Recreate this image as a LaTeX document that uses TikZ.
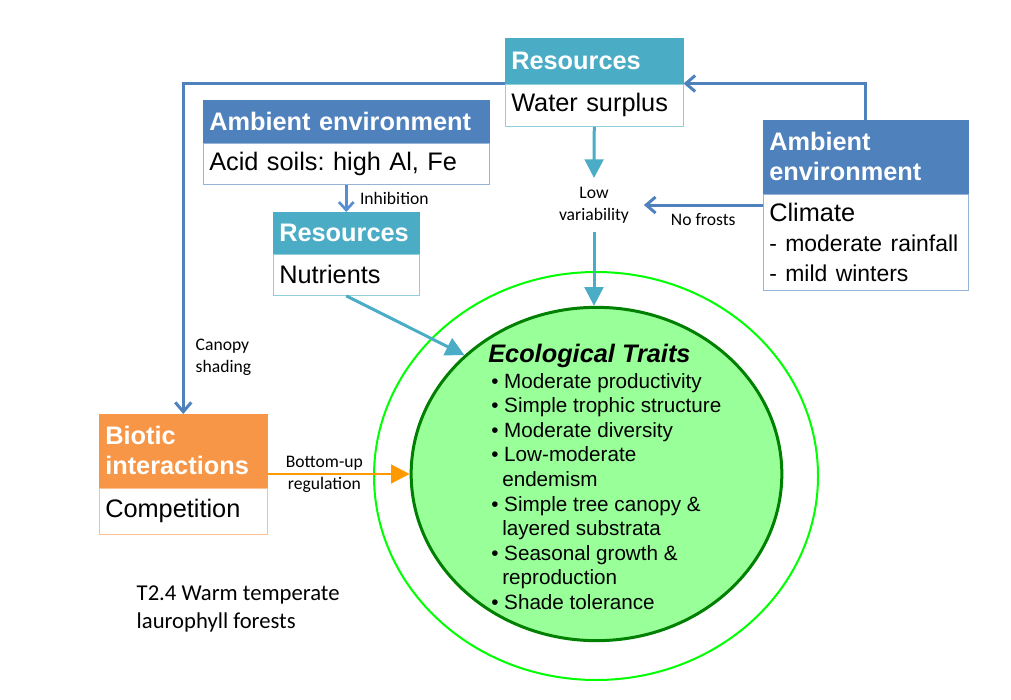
\documentclass[tikz,border=0pt]{standalone}
\usepackage{fontspec}
\setmainfont{Liberation Sans}
\newfontfamily\labelFont{Carlito}
\usetikzlibrary{positioning,shapes.geometric,arrows.meta}
\definecolor{ambBlue}{HTML}{4F81BD}
\definecolor{ambEdge}{HTML}{95B3D7}
\definecolor{resTeal}{HTML}{4BACC6}
\definecolor{resEdge}{HTML}{92CDDC}
\definecolor{bioOrange}{HTML}{F79646}
\definecolor{bioEdge}{HTML}{FAC090}
\definecolor{bioLink}{HTML}{FF9900}
\definecolor{inhBlue}{HTML}{558ED5}
\definecolor{traitFill}{HTML}{99FF99}
\definecolor{traitEdge}{HTML}{008000}
\definecolor{outerGreen}{HTML}{00FF00}
\newcommand{\boxFont}{\fontsize{19}{22.5}\selectfont}
\newcommand{\climFont}{\fontsize{17.2}{21.5}\selectfont}
\newcommand{\smallLabel}{\labelFont\fontsize{13.2}{16.5}\selectfont}
\newcommand{\traitFont}{\fontsize{15.5}{18.5}\selectfont}
\frenchspacing

\begin{document}
\begin{tikzpicture}[x=0.75pt, y=-0.75pt,
   headBox/.style={rectangle, anchor=north west, inner xsep=4.5pt, inner ysep=0pt, align=left, text=white, font=\boxFont\bfseries},
   bodyBox/.style={rectangle, fill=white, line width=1pt, inner xsep=4.5pt, inner ysep=0pt, align=left, font=\boxFont},
   blueLink/.style={draw=ambBlue, line width=2.25pt, -{Straight Barb[length=7pt,width=12pt]}},
   inhLink/.style={draw=inhBlue, line width=2pt, -{Straight Barb[length=6pt,width=11pt]}},
   tealLink/.style={draw=resTeal, line width=2.25pt, -{Triangle[length=14pt,width=14pt]}},
   orangeLink/.style={draw=bioLink, line width=2pt, -{Triangle[length=14pt,width=14pt]}}]
   \useasboundingbox (0,0) rectangle (1011,700);

   % ecological traits
   \node[ellipse, draw=outerGreen, line width=1.5pt, minimum width=333pt, minimum height=306pt] (outer) at (596,476) {};
   \node[ellipse, draw=traitEdge, fill=traitFill, line width=2.25pt, minimum width=278pt, minimum height=250pt] (traits) at (596.5,474) {};
   \node[anchor=base west, inner sep=0pt, font=\boxFont\bfseries\itshape] (traitsTitle) at (488,362) {Ecological Traits};
   \foreach \lx/\ln/\lt in {491/0/{\textbullet\ Moderate productivity}, 491/1/{\textbullet\ Simple trophic structure},
                            491/2/{\textbullet\ Moderate diversity}, 491/3/{\textbullet\ Low-moderate},
                            502/4/{endemism}, 491/5/{\textbullet\ Simple tree canopy \&},
                            502/6/{layered substrata}, 491/7/{\textbullet\ Seasonal growth \&},
                            502/8/{reproduction}, 491/9/{\textbullet\ Shade tolerance}}
   {
      \node[anchor=base west, inner sep=0pt, font=\traitFont] (trait\ln) at (\lx,388+\ln*24.6) {\lt};
   }

   % boxes
   \node[headBox, fill=resTeal, draw=resTeal, text width=124.5pt, minimum height=33.75pt] (waterHead) at (505,38) {Resources};
   \node[bodyBox, draw=resEdge, text width=124.5pt, minimum height=31.5pt, below=0pt of waterHead] (waterBody) {Water surplus};

   \node[headBox, fill=ambBlue, draw=ambBlue, text width=144.75pt, minimum height=54.75pt] (climHead) at (763,120) {Ambient\\environment};
   \node[bodyBox, draw=ambEdge, text width=144.75pt, minimum height=72pt, below=0pt of climHead] (climBody) {Climate\\{\climFont - moderate rainfall}\\{\climFont - mild winters}};

   \node[headBox, fill=ambBlue, draw=ambBlue, text width=205.5pt, minimum height=31.5pt] (soilHead) at (203,100) {Ambient environment};
   \node[bodyBox, draw=ambEdge, text width=205.5pt, minimum height=30.75pt, below=0pt of soilHead] (soilBody) {Acid soils: high Al, Fe};

   \node[headBox, fill=resTeal, draw=resTeal, text width=100.5pt, minimum height=30.75pt] (nutHead) at (273,212) {Resources};
   \node[bodyBox, draw=resEdge, text width=100.5pt, minimum height=30.75pt, below=0pt of nutHead] (nutBody) {Nutrients};

   \node[headBox, fill=bioOrange, draw=bioOrange, text width=117pt, minimum height=54.75pt] (bioHead) at (99,414) {Biotic\\interactions};
   \node[bodyBox, draw=bioEdge, text width=117pt, minimum height=34.5pt, below=0pt of bioHead] (bioBody) {Competition};

   \node[align=center, font=\smallLabel, inner xsep=11pt, inner ysep=6.5pt] (lowVar) at (594,205) {Low\\variability};
   \node[anchor=west, align=left, font=\smallLabel] (canopyLabel) at (191,357) {Canopy\\shading};
   \node[anchor=west, align=left, font=\labelFont\fontsize{17}{21}\selectfont] (caption) at (132,609) {T2.4 Warm temperate\\laurophyll forests};

   % links
   \draw[blueLink] (waterHead.south west) -| (bioHead.north);
   \draw[blueLink] (climHead.north) |- (waterHead.south east);
   \draw[blueLink] (lowVar.east -| climBody.west) -- (lowVar.east) node[midway, below=2pt, font=\smallLabel] {No frosts};
   \draw[inhLink] (soilBody.south) -- (nutHead.north) node[midway, right=6pt, font=\smallLabel] {Inhibition};
   \draw[tealLink] (waterBody.south) -- (lowVar.north);
   \draw[tealLink] (lowVar.south) -- (lowVar.south |- traits.north);
   \draw[tealLink] (nutBody.south) -- (traits.138);
   \draw[orangeLink] (traits.west -| bioHead.east) -- (traits.west) node[pos=0.4, align=center, font=\smallLabel] {Bottom-up\\regulation};
\end{tikzpicture}
\end{document}
